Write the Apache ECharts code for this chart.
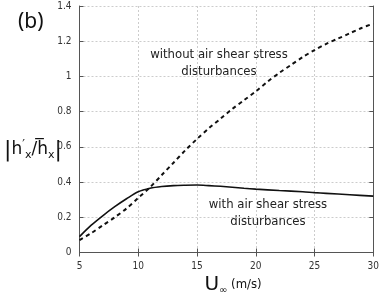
<!DOCTYPE html>
<html>
<head>
<meta charset="utf-8">
<script src="https://cdn.jsdelivr.net/npm/echarts@6/dist/echarts.min.js"></script>
<style>html,body{margin:0;padding:0;background:#fff}#c{width:382px;height:297px}</style>
</head>
<body>
<div id="c"></div>
<script>
// Wind speed U∞ (m/s)
var uDashed = [5,6,7,8,9,10,11,12,13,14,15,16,17,18,19,20,21,22,23,24,25,26,27,28,29,30];
// without air shear stress disturbances
var withoutShear = [0.07,0.11,0.155,0.20,0.25,0.31,0.37,0.44,0.51,0.58,0.645,0.705,0.76,0.815,0.865,0.915,0.97,1.02,1.065,1.11,1.15,1.185,1.215,1.245,1.275,1.30];
var uSolid = [5,6,7,8,9,10,11,12,13,14,15,16,17,18,19,20,22,24,25,26,28,30];
// with air shear stress disturbances
var withShear = [0.09,0.155,0.21,0.26,0.305,0.345,0.365,0.375,0.38,0.382,0.383,0.38,0.376,0.371,0.365,0.36,0.352,0.345,0.34,0.336,0.328,0.32];
var xTicks = [5,10,15,20,25,30];
var yTicks = [0,0.2,0.4,0.6,0.8,1,1.2,1.4];

function pairs(xs, ys){ return xs.map(function(x,i){ return [x, ys[i]]; }); }

var chart = echarts.init(document.getElementById('c'), null, {renderer:'canvas'});
var tickFont = '"Liberation Sans Narrow","DejaVu Sans Condensed","Liberation Sans",sans-serif';
var annFont = '"Liberation Sans Narrow","DejaVu Sans Condensed",sans-serif';
var axisCol = '#555';
chart.setOption({
  animation:false,
  backgroundColor:'#fff',
  grid:{left:79.5,right:4,top:6,bottom:44.5,containLabel:false},
  xAxis:[{
    type:'value',min:xTicks[0],max:xTicks[xTicks.length-1],interval:5,
    axisLine:{lineStyle:{color:axisCol,width:1}},
    axisTick:{inside:true,length:4,lineStyle:{color:axisCol}},
    axisLabel:{margin:9,fontSize:10,color:'#333',fontFamily:tickFont},
    splitLine:{show:true,lineStyle:{color:'#ccc',type:[2,2],width:1}}
  },{
    type:'value',position:'top',min:xTicks[0],max:xTicks[xTicks.length-1],interval:5,
    axisLine:{show:true,lineStyle:{color:axisCol,width:1}},
    axisTick:{inside:true,length:4,lineStyle:{color:axisCol}},
    axisLabel:{show:false},splitLine:{show:false}
  }],
  yAxis:[{
    type:'value',min:0,max:1.4,interval:0.2,
    axisLine:{show:true,lineStyle:{color:axisCol,width:1}},
    axisTick:{show:true,inside:true,length:4,lineStyle:{color:axisCol}},
    axisLabel:{margin:8,fontSize:10,color:'#333',fontFamily:tickFont,
      formatter:function(v){ return (Math.round(v*10)/10).toString(); }},
    splitLine:{show:true,lineStyle:{color:'#ccc',type:[2,2],width:1}}
  },{
    type:'value',position:'right',min:0,max:1.4,interval:0.2,
    axisLine:{show:true,lineStyle:{color:axisCol,width:1}},
    axisTick:{show:true,inside:true,length:4,lineStyle:{color:axisCol}},
    axisLabel:{show:false},splitLine:{show:false}
  }],
  series:[{
    type:'line',name:'without',data:pairs(uDashed,withoutShear),showSymbol:false,smooth:0.3,
    lineStyle:{color:'#111',width:2,type:[4,3.5]}
  },{
    type:'line',name:'with',data:pairs(uSolid,withShear),showSymbol:false,smooth:0.3,
    lineStyle:{color:'#111',width:1.6}
  }],
  graphic:[
    {type:'text',left:18,top:12,style:{text:'(b)',fontSize:21,fill:'#111',fontFamily:'"Noto Sans","DejaVu Sans",sans-serif'}},
    {type:'text',x:219,y:63.5,style:{text:'without air shear stress\ndisturbances',fontSize:13,lineHeight:17,fill:'#222',align:'center',verticalAlign:'middle',fontFamily:annFont}},
    {type:'text',x:268,y:213,style:{text:'with air shear stress\ndisturbances',fontSize:13,lineHeight:17,fill:'#222',align:'center',verticalAlign:'middle',fontFamily:annFont}},
    {type:'text',x:4,y:150,style:{
      text:'{b|\u007C}{t|h}{s|\u2032}{sub|x}{t|/}{o|h\u0305}{sub|x}{b|\u007C}',
      verticalAlign:'middle',
      rich:{
        b:{fontSize:22,fill:'#111',fontFamily:'"DejaVu Sans",sans-serif'},
        t:{fontSize:17,fill:'#111',fontFamily:'"DejaVu Sans",sans-serif'},
        o:{fontSize:17,fill:'#111',fontFamily:'"DejaVu Sans",sans-serif'},
        s:{fontSize:12,fill:'#111',verticalAlign:'top',fontFamily:'"DejaVu Sans",sans-serif'},
        sub:{fontSize:11,fill:'#111',verticalAlign:'bottom',fontFamily:'"DejaVu Sans",sans-serif'}
      }}},
    {type:'text',x:233,y:285,style:{
      text:'{u|U}{i|\u221E}{m| (m/s)}',align:'center',verticalAlign:'middle',
      rich:{
        u:{fontSize:20,fill:'#111',fontFamily:'"Liberation Sans Narrow","DejaVu Sans",sans-serif'},
        i:{fontSize:10,fill:'#111',verticalAlign:'bottom',fontFamily:'"DejaVu Sans",sans-serif'},
        m:{fontSize:13,fill:'#111',fontFamily:'"Liberation Sans Narrow","DejaVu Sans Condensed",sans-serif'}
      }}}
  ]
});
</script>
</body>
</html>
